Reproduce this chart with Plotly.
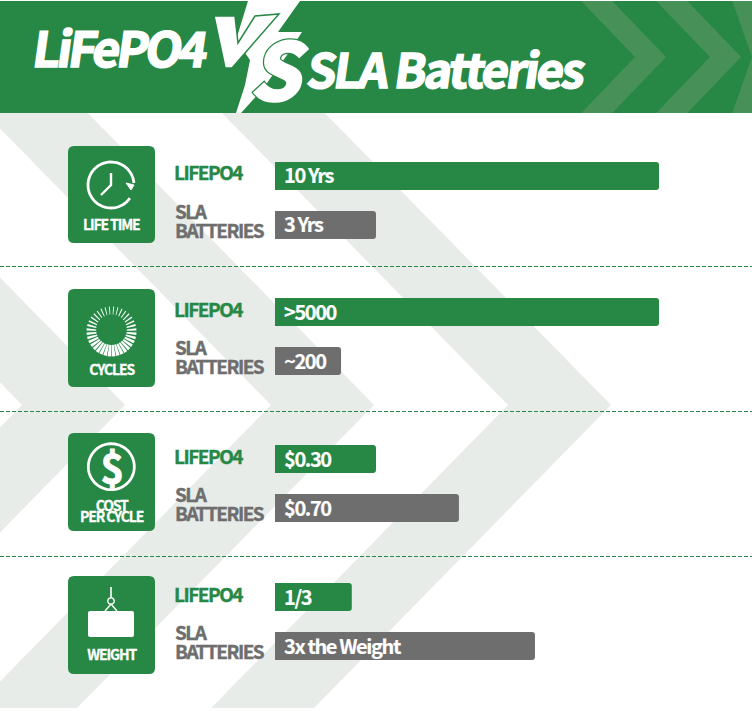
import numpy as np
import plotly.graph_objects as go

# ---- data ----
GROUP_NAMES = ["LIFE TIME", "CYCLES", "COST PER CYCLE", "WEIGHT"]
SERIES = ["LIFEPO4", "SLA BATTERIES"]
BAR_LABELS = [["10 Yrs", "3 Yrs"], [">5000", "~200"], ["$0.30", "$0.70"], ["1/3", "3x the Weight"]]
# bar length as a percentage of the longest bar
BAR_LENGTHS = [[100, 26.3], [100, 17.2], [26.3, 47.9], [20, 67.7]]

GREEN = "#278845"
GREY = "#6e6e6e"
LIGHT = "#e7ece9"
STRIPE = "#479158"
FONT = "Noto Sans CJK SC"
W, H = 752, 711

def pth(points, close=True):
    return "M" + " L".join(f"{x:.2f},{y:.2f}" for x, y in points) + (" Z" if close else "")

def rrect(x0, y0, x1, y1, r):
    return (f"M{x0+r},{y0} L{x1-r},{y0} Q{x1},{y0} {x1},{y0+r} L{x1},{y1-r} Q{x1},{y1} {x1-r},{y1} "
            f"L{x0+r},{y1} Q{x0},{y1} {x0},{y1-r} L{x0},{y0+r} Q{x0},{y0} {x0+r},{y0} Z")

shapes = []
def add(path, fill=None, line=None, lw=0):
    d = dict(type="path", path=path, xref="x", yref="y", layer="below",
             line=dict(width=lw, color=line or "rgba(0,0,0,0)"))
    if fill:
        d["fillcolor"] = fill
    shapes.append(d)

# background chevrons
ay, s, top, bot = 405, 0.98, 113, 708
for tip in [125, 374, 611]:
    inner = tip - 103
    add(pth([(inner - s*(ay-top), top), (tip - s*(ay-top), top), (tip, ay),
             (tip - s*(bot-ay), bot), (inner - s*(bot-ay), bot), (inner, ay)]), fill=LIGHT)

# header
add(pth([(0, 1), (W, 1), (W, 113), (0, 113)]), fill=GREEN)
for outer in [666, 741, 817]:
    inn = outer - 31
    hy, hs = 57, 0.96
    pts = [(inn - hs*56, 1), (outer - hs*56, 1), (outer, hy), (outer - hs*56, 113), (inn - hs*56, 113), (inn, hy)]
    add(pth([(min(x, W), y) for x, y in pts]), fill=STRIPE)
# lightning bolt + V
add(pth([(248, 1), (300, 1), (278, 32), (302, 32), (287, 55), (262, 90), (241, 113), (236, 113),
         (245, 85), (250, 60), (236, 40)]), fill="#ffffff")
add(pth([(214, 16), (235, 16), (238, 43), (255, 16), (279, 14), (232, 68), (225, 68)]),
    fill="#ffffff", line=GREEN, lw=1.5)

# icon tiles
TILES = [(146, 243), (289, 387), (433, 531), (576, 674)]
for t0, t1 in TILES:
    add(rrect(68, t0, 155, t1, 6), fill=GREEN)
# dashed separators
for yy in [266.5, 411.5, 556.5]:
    shapes.append(dict(type="line", xref="x", yref="y", x0=0, x1=W, y0=yy, y1=yy, layer="below",
                       line=dict(color=GREEN, width=1, dash="4px,2px")))

def arc(cx, cy, r, a0, a1, n=60):
    a = np.radians(np.linspace(a0, a1, n))
    return list(zip(cx + r*np.cos(a), cy + r*np.sin(a)))

# clock icon
add(pth(arc(111, 185, 23, 35, 355), close=False), line="#ffffff", lw=2.8)
add(pth([(111, 173), (111, 185), (101, 195)], close=False), line="#ffffff", lw=2.4)
add(pth([(126, 183), (134, 185), (131, 190)]), fill="#ffffff", line="#ffffff", lw=1)
# cycles icon
cx, cy = 111.5, 331.5
for k in range(36):
    ang = 360/36*k + 5
    f = (1 + np.sin(np.radians(ang))) / 2       # 0 at top, 1 at bottom
    half = 10/2*(0.22 + 0.62*f)
    ro, ri = 25, 17 - 3.5*f
    a0, a1 = np.radians(ang-half), np.radians(ang+half)
    add(pth([(cx+ro*np.cos(a0), cy+ro*np.sin(a0)), (cx+ro*np.cos(a1), cy+ro*np.sin(a1)),
             (cx+ri*np.cos(a1), cy+ri*np.sin(a1)), (cx+ri*np.cos(a0), cy+ri*np.sin(a0))]), fill="#ffffff")
# dollar icon
add(pth(arc(111.3, 466.7, 23, 0, 360, 90)), line="#ffffff", lw=2.8)
# weight icon
add(rrect(88, 611, 134, 637, 2), fill="#ffffff")
add(pth([(111, 587), (111, 598)], close=False), line="#ffffff", lw=1.6)
add(pth(arc(111, 601, 3.2, 0, 360, 30)), line="#ffffff", lw=1.4)
add(pth([(105, 611), (111, 604), (117, 611)], close=False), line="#ffffff", lw=1.4)

# ---- bars: one hidden category axis per group, sharing one value axis ----
ROW_CENTRES = [(176, 225), (312, 361), (459, 508), (597, 646)]
PITCH = 49
fig = go.Figure()
layout_axes = {}
ann = []
def text(x, y, t, size, color, anchor="left", xref="x", yref="y", **kw):
    f = dict(family=FONT, size=size, color=color, weight=700)
    f.update(kw.pop("font", {}))
    ann.append(dict(x=x, y=y, text=t, xref=xref, yref=yref, showarrow=False, xanchor=anchor,
                    yanchor="middle", align=anchor, font=f, **kw))

for i, vals in enumerate(BAR_LENGTHS):
    yname = f"y{i+2}"
    c0, c1 = ROW_CENTRES[i]
    y_top, y_bot = c0 - PITCH/2, c1 + PITCH/2
    layout_axes[f"yaxis{i+2}"] = dict(domain=[1 - y_bot/H, 1 - y_top/H], type="category", visible=False,
                                      categoryorder="array", categoryarray=SERIES,
                                      range=[1.5, -0.5], anchor="x2", fixedrange=True)
    fig.add_trace(go.Bar(y=SERIES, x=vals, orientation="h", xaxis="x2", yaxis=yname,
                         marker=dict(color=[GREEN, GREY], line=dict(width=0), cornerradius=3),
                         width=28/PITCH, hoverinfo="skip", showlegend=False))
    for j, lab in enumerate(BAR_LABELS[i]):
        text(0, SERIES[j], lab, 20, "#ffffff", xref="x2", yref=yname, xshift=7, yshift=1)
    text(172, SERIES[0], "LIFEPO4", 19, GREEN, yref=yname, yshift=4)
    text(172.5, SERIES[1], "SLA<br>BATTERIES", 19, GREY, yref=yname, yshift=2)

# tile captions
text(111.5, 224, "LIFE TIME", 14, "#ffffff", "center")
text(111.5, 369, "CYCLES", 14, "#ffffff", "center")
text(111.5, 514, "COST<br>PER CYCLE", 14, "#ffffff", "center")
text(111.5, 654, "WEIGHT", 14, "#ffffff", "center")
text(111.3, 466, "$", 40, "#ffffff", "center")
# header title
text(32, 46, "LiFePO4", 48, "#ffffff")
text(306, 67, "SLA Batteries", 47, "#ffffff")
text(275, 66, "S", 78, "#ffffff", "center", font=dict(style="italic"),
     captureevents=False, name="s-top")

fig.update_layout(
    width=W, height=H, margin=dict(l=0, r=0, t=0, b=0, pad=0), autosize=False,
    paper_bgcolor="#ffffff", plot_bgcolor="rgba(0,0,0,0)", showlegend=False, barmode="overlay",
    xaxis=dict(domain=[0, 1], range=[0, W], visible=False, anchor="y", fixedrange=True),
    yaxis=dict(domain=[0, 1], range=[H, 0], visible=False, anchor="x", fixedrange=True),
    xaxis2=dict(domain=[275/W, 659/W], range=[0, 100], visible=False, anchor="y2", fixedrange=True),
    shapes=shapes, annotations=ann, **layout_axes,
)
POST = """
document.body.style.margin='0';
document.querySelectorAll('.annotation-text').forEach(function(t){
  var c=t.textContent, sz=parseFloat(t.style.fontSize), title=(c==='LiFePO4'||c==='SLA Batteries');
  t.style.letterSpacing = c==='LiFePO4' ? '-0.07em' : (c==='SLA Batteries' ? '-0.05em' : (sz===20 ? '-0.07em' : '-0.08em'));
  t.style.stroke = '#ffffff';
  if(sz===19){ t.style.stroke = t.style.fill; }
  t.style.strokeWidth = (c==='S' ? 3.5 : sz*(title?0.035:(sz===20?0.008:0.02)))+'px';
  if(c==='S'){
    /* green keyline behind the white S: a stroked copy of the same text */
    var u=t.cloneNode(true);
    u.style.stroke='#278845'; u.style.fill='#278845'; u.style.strokeWidth='6px';
    t.parentNode.insertBefore(u,t);
  }
  if(title){ t.style.transformBox='fill-box'; t.style.transformOrigin='center'; t.style.transform='skewX(-8deg)'; }
  var lines=t.querySelectorAll('tspan.line');
  if(lines.length>1){ lines[1].setAttribute('dy', c.indexOf('COST')===0 ? '0.8em' : '1em'); }
});
"""
fig.write_html("out.html", post_script=POST, config=dict(displayModeBar=False))
